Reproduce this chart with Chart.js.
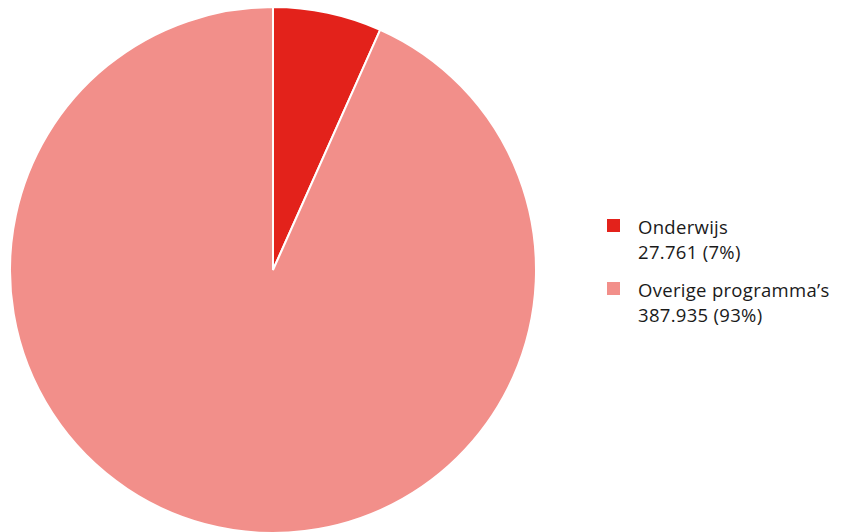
<!DOCTYPE html>
<html>
<head>
<meta charset="utf-8">
<script src="https://cdn.jsdelivr.net/npm/chart.js@4/dist/chart.umd.min.js"></script>
<style>
  html, body { margin: 0; padding: 0; background: #fff; }
  #wrap { position: relative; width: 841px; height: 532px; overflow: hidden; }
  #pie { position: absolute; left: 0; top: 0; width: 546px; height: 534px; }
  #legend { position: absolute; left: 607px; top: 214px; font-family: "Open Sans", "Noto Sans", sans-serif; font-size: 18.5px; letter-spacing: 0.3px; color: #1a1a1a; }
  .item { position: relative; padding-left: 31px; line-height: 25px; margin-bottom: 13px; white-space: nowrap; }
  .sw { position: absolute; left: 0; top: 5px; width: 13px; height: 13px; }
</style>
</head>
<body>
<div id="wrap">
  <div id="pie"><canvas id="c" width="546" height="534"></canvas></div>
  <div id="legend"></div>
</div>
<script>
const categories = ["Onderwijs", "Overige programma’s"];
const values = [27761, 387935];
const valueLabels = ["27.761", "387.935"];
const percentLabels = ["7%", "93%"];
const colors = ["#E3221B", "#F28F8A"];

const legend = document.getElementById('legend');
categories.forEach((c, i) => {
  const d = document.createElement('div');
  d.className = 'item';
  d.innerHTML = '<span class="sw" style="background:' + colors[i] + '"></span>' + c + '<br>' + valueLabels[i] + ' (' + percentLabels[i] + ')';
  legend.appendChild(d);
});

new Chart(document.getElementById('c'), {
  type: 'pie',
  data: {
    labels: categories,
    datasets: [{
      data: values,
      backgroundColor: colors,
      borderColor: '#ffffff',
      borderWidth: 2,
      hoverOffset: 0
    }]
  },
  options: {
    responsive: false,
    animation: false,
    layout: { padding: { left: 9, right: 9, top: 6, bottom: 0 } },
    plugins: { legend: { display: false }, tooltip: { enabled: false } }
  }
});
</script>
</body>
</html>
